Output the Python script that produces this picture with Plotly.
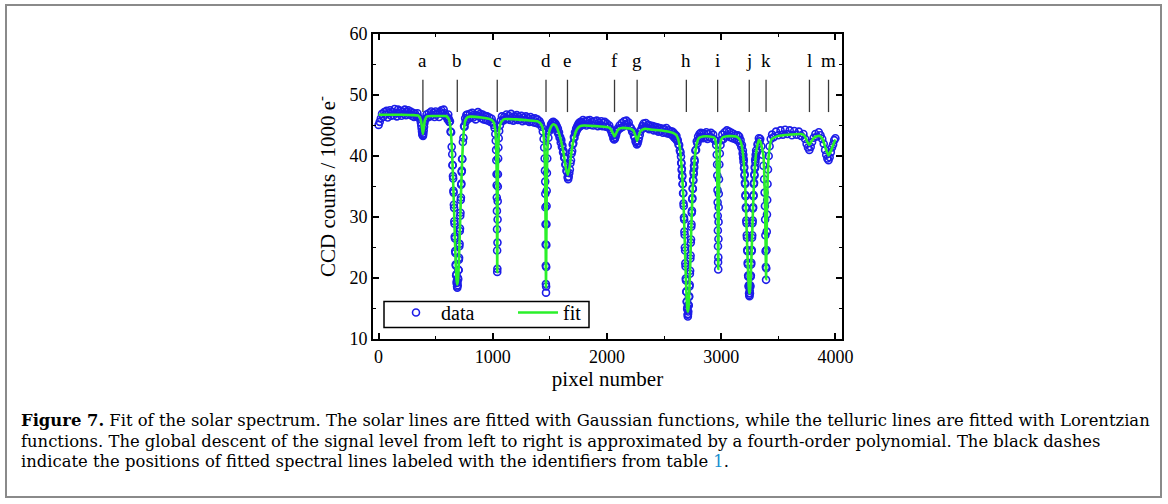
import plotly.graph_objects as go

# ================= data =================
# measured spectrum ("data"), stored region by region (x = pixel number, y = counts / 1000 e-)
X_CONT1 = list(range(0, 371, 10))
Y_CONT1 = [45.1, 45.6, 46.2, 46.9, 46.4, 47.2, 46.8, 47.4, 46.3, 47.0,
           47.5, 46.6, 47.2, 46.7, 47.7, 47.1, 46.5, 47.6, 47.0, 47.4,
           46.6, 47.3, 46.9, 47.6, 46.7, 47.2, 47.5, 46.8, 47.3, 46.6,
           47.1, 46.4, 46.9, 46.5, 47.0, 46.3, 46.1, 45.5]
X_LINE_A = list(range(374, 405, 3))
Y_LINE_A = [45.0, 44.5, 44.0, 43.6, 43.4, 43.3, 43.7, 44.2, 44.8, 45.4, 45.8]
X_CONT2 = list(range(410, 601, 10))
Y_CONT2 = [46.1, 46.8, 46.3, 47.0, 46.5, 47.3, 46.7, 47.1, 46.4, 47.3,
           46.8, 47.0, 46.4, 47.2, 47.5, 46.9, 47.6, 47.0, 46.5, 46.4]
X_LINE_B = [605, 610, 615, 620, 625, 630, 635, 640, 645, 647, 649, 651, 653, 655, 657, 659, 661, 663, 665,
            667, 669, 671, 673, 675, 677, 679, 681, 683, 685, 687, 689, 691, 693, 695, 697, 699, 701, 703,
            705, 707, 709, 711, 713, 715, 717, 719, 721, 723, 725, 727, 729, 731, 733, 738, 743, 748, 753,
            758, 763, 768, 773, 778]
Y_LINE_B = [46.0, 46.8, 46.1, 45.6, 45.7, 44.0, 43.9, 41.5, 40.3, 38.5, 38.5, 36.7, 36.3, 34.3, 34.0, 32.0,
            31.5, 29.3, 28.9, 26.8, 26.5, 24.4, 24.1, 22.2, 22.0, 20.4, 20.6, 19.2, 19.5, 18.6, 18.4, 19.3,
            18.8, 20.0, 19.8, 21.3, 21.3, 23.0, 23.3, 25.2, 25.6, 27.7, 28.1, 30.2, 30.7, 32.8, 33.2, 35.3,
            35.5, 37.4, 37.6, 39.5, 39.5, 42.3, 43.0, 44.9, 44.8, 46.2, 45.6, 46.7, 46.0, 46.8]
X_CONT3 = list(range(790, 1001, 10))
Y_CONT3 = [46.1, 46.9, 46.4, 47.1, 46.3, 46.8, 46.0, 46.6, 47.2, 46.5, 46.9,
           46.2, 46.8, 46.0, 46.6, 45.9, 46.5, 45.8, 46.3, 45.6, 46.1, 45.5]
X_LINE_C = [1010, 1016, 1022, 1026, 1029, 1031, 1033, 1034, 1035, 1036, 1037, 1038, 1039, 1040, 1041,
            1042, 1043, 1044, 1045, 1047, 1049, 1052, 1056, 1062, 1070]
Y_LINE_C = [45.1, 44.6, 43.6, 42.5, 41.0, 39.3, 37.0, 35.2, 33.2, 31.0, 28.0, 24.5, 21.0, 21.5, 25.8,
            29.6, 32.6, 35.0, 37.0, 39.6, 41.4, 42.9, 44.1, 45.0, 45.8]
X_CONT4 = list(range(1080, 1411, 10))
Y_CONT4 = [46.5, 45.8, 46.4, 46.0, 46.8, 46.1, 46.6, 45.9, 46.9, 46.3, 45.8, 46.5,
           46.1, 46.7, 45.9, 46.4, 46.0, 46.6, 45.7, 46.3, 45.9, 46.5, 45.8, 46.2,
           45.6, 46.4, 45.7, 46.1, 45.5, 46.2, 45.4, 46.0, 45.3, 45.7]
X_LINE_D = [1420, 1428, 1438, 1445, 1450, 1454, 1457, 1459, 1460, 1461, 1462, 1463, 1464, 1465, 1466,
            1467, 1468, 1469, 1470, 1471, 1472, 1474, 1477, 1481, 1487, 1495, 1500]
Y_LINE_D = [45.3, 44.8, 44.0, 42.8, 41.4, 39.6, 37.6, 35.8, 33.8, 31.6, 28.8, 25.5, 22.0, 19.0, 17.6,
            18.6, 21.8, 25.4, 28.8, 31.8, 34.3, 37.2, 39.6, 41.6, 43.0, 44.1, 44.6]
X_LINE_E = list(range(1505, 1776, 5))
Y_LINE_E = [44.4, 45.2, 44.7, 45.5, 45.0, 45.6, 44.9, 45.4, 44.8, 45.3, 44.5, 44.9, 44.0, 44.5,
            43.6, 43.9, 43.0, 43.1, 42.2, 42.6, 41.5, 41.7, 40.6, 40.8, 39.7, 39.8, 38.6, 38.6,
            37.6, 37.4, 36.5, 36.2, 36.6, 37.2, 37.8, 38.8, 39.3, 40.4, 40.8, 41.9, 42.1, 43.1,
            43.0, 43.9, 43.7, 44.5, 44.2, 44.9, 44.5, 45.3, 44.8, 45.5, 44.9, 45.6, 45.0]
X_CONT5 = list(range(1780, 2031, 10))
Y_CONT5 = [45.4, 45.9, 45.2, 45.7, 45.0, 45.8, 45.3, 45.9, 45.1, 45.6, 45.0, 45.7, 45.2,
           45.8, 44.9, 45.5, 45.1, 45.7, 44.9, 45.4, 45.6, 44.8, 45.3, 44.7, 45.0, 44.4]
X_LINE_F = [2037, 2044, 2050, 2056, 2062, 2068, 2074, 2080, 2087, 2094, 2100]
Y_LINE_F = [44.1, 43.7, 43.4, 42.9, 42.7, 42.8, 43.1, 43.5, 44.0, 44.5, 44.3]
X_CONT6 = list(range(2110, 2211, 10))
Y_CONT6 = [45.0, 44.6, 45.4, 44.8, 45.7, 45.1, 45.8, 45.2, 45.5, 44.8, 44.6]
X_LINE_G = [2220, 2228, 2236, 2244, 2250, 2256, 2262, 2268, 2274, 2280, 2287, 2294, 2301, 2310]
Y_LINE_G = [44.0, 44.1, 43.3, 43.0, 42.4, 42.3, 41.9, 42.1, 42.5, 43.0, 43.5, 44.1, 44.4, 44.9]
X_CONT7 = list(range(2320, 2561, 10))
Y_CONT7 = [45.3, 44.7, 45.4, 44.6, 45.1, 44.4, 45.0, 44.5, 44.9, 44.2, 44.8, 44.3, 44.7,
           44.0, 44.6, 44.1, 44.5, 43.8, 44.4, 43.9, 44.6, 43.7, 44.2, 43.6, 44.0]
X_LINE_H = list(range(2566, 2645, 6)) + list(range(2648, 2769, 2)) + list(range(2774, 2841, 6))
Y_LINE_H = [43.5, 44.0, 43.3, 43.8, 43.0, 43.5, 42.8, 43.3, 42.5, 42.6, 41.9, 41.8, 40.9, 40.6,
            39.9, 38.9, 38.8, 37.7, 37.9, 36.6, 36.8, 35.4, 35.4, 33.9, 33.9, 32.2, 31.8, 29.9, 29.6,
            27.6, 27.1, 25.0, 24.5, 22.4, 21.9, 19.9, 19.6, 17.8, 17.7, 16.1, 16.2, 14.9, 15.2, 14.0,
            13.7, 14.1, 14.5, 15.6, 15.5, 16.9, 17.0, 18.6, 18.9, 20.7, 21.2, 23.2, 23.7, 25.8, 26.3,
            28.4, 28.8, 30.7, 31.0, 32.9, 33.1, 34.7, 34.6, 36.1, 36.0, 37.4, 37.1, 38.4, 38.1, 39.4,
            39.1,
            40.9, 41.0, 42.4, 42.1, 43.2, 42.7, 43.6, 43.0, 43.8, 43.1, 43.7, 42.9]
X_CONT8 = list(range(2850, 2951, 10))
Y_CONT8 = [43.7, 43.0, 43.9, 42.8, 43.6, 43.1, 43.8, 42.9, 43.5, 42.7, 42.5]
X_LINE_I = [2956, 2961, 2964, 2966, 2968, 2969, 2970, 2971, 2972, 2973, 2974, 2975, 2976, 2977, 2978,
            2979, 2981, 2984, 2988, 2994, 3002]
Y_LINE_I = [41.8, 40.2, 38.6, 36.8, 34.4, 32.4, 30.2, 27.8, 25.2, 22.6, 21.4, 23.4, 26.4, 29.2, 31.6,
            33.8, 36.2, 38.6, 40.4, 41.8, 42.6]
X_CONT9 = list(range(3010, 3141, 10))
Y_CONT9 = [43.5, 42.8, 43.9, 43.2, 44.2, 43.4, 44.0, 43.1, 43.8, 42.9, 43.6, 42.8, 43.4, 42.6]
X_LINE_J = list(range(3146, 3189, 6)) + list(range(3190, 3307, 2)) + list(range(3312, 3343, 6))
Y_LINE_J = [43.4, 42.6, 43.2, 42.1, 42.6, 41.5, 41.8, 40.4,
            40.9, 39.7, 40.2, 39.0, 39.4, 38.0, 38.2, 36.8, 37.0, 35.6, 35.4, 33.6, 33.4, 31.6, 31.4,
            29.4, 29.0, 27.0, 26.6, 24.6, 24.4, 22.5, 22.2, 20.4, 20.2, 18.6, 18.8, 17.5, 17.2, 17.0,
            17.9, 17.5, 18.8, 18.6, 20.2, 20.4, 22.2, 22.5, 24.4, 24.6, 26.6, 27.0, 29.0, 29.4, 31.4,
            31.6, 33.4, 33.6, 35.4, 35.6, 37.0, 36.8, 38.2, 38.0, 39.4, 39.0, 40.2, 39.7, 40.9,
            40.6, 41.9, 42.0, 42.9, 42.4, 42.8]
X_LINE_K = [3352, 3362, 3370, 3376, 3380, 3383, 3385, 3387, 3389, 3391, 3393, 3395, 3397, 3399, 3401,
            3403, 3406, 3410, 3416, 3424, 3434, 3446]
Y_LINE_K = [41.6, 40.2, 38.4, 36.2, 34.0, 31.8, 29.6, 27.0, 24.4, 21.8, 19.7, 21.6, 24.6, 27.6, 30.4,
            32.8, 35.4, 37.8, 40.0, 41.6, 42.8, 43.5]
X_CONT10 = list(range(3460, 3721, 20))
Y_CONT10 = [43.1, 44.0, 43.4, 44.2, 43.5, 44.3, 43.6, 44.2, 43.4, 44.1, 43.5, 44.0, 43.3, 43.6]
X_LINES_LM = [3735, 3748, 3760, 3772, 3784, 3796, 3810, 3825, 3840, 3855, 3870,
              3885, 3898, 3910, 3920, 3930, 3940, 3950, 3960, 3970, 3980, 3990, 4000]
Y_LINES_LM = [42.8, 42.0, 41.4, 41.0, 41.5, 42.3, 43.0, 43.6, 43.2, 43.9, 43.4,
              42.8, 42.0, 41.0, 40.2, 39.6, 39.3, 39.8, 40.6, 41.4, 41.9, 42.6, 42.9]

DATA_PARTS = [(X_CONT1, Y_CONT1), (X_LINE_A, Y_LINE_A), (X_CONT2, Y_CONT2), (X_LINE_B, Y_LINE_B),
              (X_CONT3, Y_CONT3), (X_LINE_C, Y_LINE_C), (X_CONT4, Y_CONT4), (X_LINE_D, Y_LINE_D),
              (X_LINE_E, Y_LINE_E), (X_CONT5, Y_CONT5), (X_LINE_F, Y_LINE_F), (X_CONT6, Y_CONT6),
              (X_LINE_G, Y_LINE_G), (X_CONT7, Y_CONT7), (X_LINE_H, Y_LINE_H), (X_CONT8, Y_CONT8),
              (X_LINE_I, Y_LINE_I), (X_CONT9, Y_CONT9), (X_LINE_J, Y_LINE_J), (X_LINE_K, Y_LINE_K),
              (X_CONT10, Y_CONT10), (X_LINES_LM, Y_LINES_LM)]

# fitted model curve ("fit")
FIT_X = [0, 100, 200, 300, 350, 370, 380, 388, 396, 406, 425, 500, 580,
         600, 620, 630, 640, 649, 659, 669, 677, 683, 689, 695, 701, 709, 719, 729, 738, 748, 758, 775,
         800, 900, 980,
         1005, 1020, 1028, 1033, 1036, 1039, 1042, 1045, 1050, 1058, 1075, 1100, 1200, 1300, 1390,
         1420, 1440, 1452, 1459, 1463, 1466, 1469, 1473, 1480, 1492, 1510, 1530, 1550,
         1575, 1600, 1620, 1640, 1658, 1675, 1690, 1710, 1735, 1765, 1800, 1900, 2000,
         2030, 2050, 2066, 2082, 2100, 2130, 2200, 2230, 2250, 2264, 2278, 2295, 2330, 2400, 2500, 2560,
         2578, 2608, 2623, 2638, 2648, 2658, 2668, 2678, 2688, 2698, 2703, 2708, 2713, 2718, 2728, 2738,
         2748, 2758, 2768, 2778, 2793, 2808, 2840, 2900,
         2940, 2955, 2965, 2970, 2974, 2978, 2983, 2993, 3010, 3050, 3130,
         3158, 3173, 3188, 3198, 3208, 3218, 3228, 3238, 3244, 3248, 3252, 3258, 3268, 3278, 3288, 3298,
         3308, 3320, 3332, 3345,
         3370, 3382, 3388, 3393, 3398, 3404, 3416, 3440, 3500, 3600, 3700,
         3730, 3755, 3773, 3790, 3820, 3860, 3890, 3915, 3940, 3960, 3980, 4000]
FIT_Y = [46.75, 46.75, 46.75, 46.7, 46.6, 45.9, 44.6, 43.6, 44.6, 45.9, 46.5, 46.55, 46.55,
         46.45, 45.8, 44.4, 41.9, 38.0, 32.3, 26.0, 21.7, 19.6, 18.9, 19.6, 21.7, 26.0, 32.3, 38.0, 41.9,
         44.4, 45.7, 46.3,
         46.45, 46.3, 46.0,
         45.6, 44.5, 42.5, 38.5, 32.0, 21.0, 32.0, 38.5, 42.5, 44.5, 45.6, 46.05, 46.0, 45.85, 45.7,
         45.3, 44.3, 41.5, 36.0, 26.0, 18.5, 26.0, 36.0, 41.5, 43.8, 44.8, 45.2, 45.0,
         44.0, 42.3, 40.5, 38.0, 36.9, 38.5, 40.8, 42.9, 44.3, 44.9, 45.0, 44.9, 44.75,
         44.5, 43.8, 43.2, 43.8, 44.4, 44.6, 44.5, 44.2, 43.3, 42.5, 43.3, 44.1, 44.45, 44.3, 44.1, 43.9,
         43.8, 43.4, 42.8, 41.4, 39.5, 37.0, 33.5, 28.0, 21.5, 16.5, 15.0, 14.5, 15.0, 16.5, 21.5, 28.0,
         33.5, 37.0, 39.5, 41.2, 42.5, 43.0, 43.2, 43.2,
         43.0, 42.0, 37.0, 30.0, 21.5, 30.0, 37.0, 42.0, 43.0, 43.25, 43.2,
         42.8, 42.2, 40.8, 39.0, 36.0, 31.0, 25.0, 19.8, 17.9, 17.5, 17.9, 19.8, 25.0, 31.0, 36.0, 39.0,
         40.8, 42.0, 42.6, 42.3,
         40.0, 34.0, 27.0, 19.8, 27.0, 34.0, 40.0, 42.7, 43.3, 43.5, 43.6,
         43.3, 42.3, 41.8, 42.4, 43.1, 43.3, 42.7, 41.2, 40.1, 40.8, 41.8, 42.7]

LINE_LABELS = ["a", "b", "c", "d", "e", "f", "g", "h", "i", "j", "k", "l", "m"]
LINE_POS = [388, 689, 1039, 1466, 1654, 2066, 2264, 2695, 2969, 3246, 3393, 3773, 3940]
DASH_BOTTOM = 47.2
DASH_TOP = 52.5
LABEL_Y = 55.7

X_TICKS = [0, 1000, 2000, 3000, 4000]
Y_TICKS = [10, 20, 30, 40, 50, 60]

CAPTION = [
    "<b>Figure 7.</b> Fit of the solar spectrum. The solar lines are fitted with Gaussian functions, "
    "while the telluric lines are fitted with Lorentzian",
    "functions. The global descent of the signal level from left to right is approximated by a "
    "fourth-order polynomial. The black dashes",
    "indicate the positions of fitted spectral lines labeled with the identifiers from table "
    "<span style='color:#1a8fd0'>1</span>.",
]
CAPTION_Y = [420, 441, 462]

# ================= layout geometry (pixels) =================
W, H = 1168, 504
PLOT_L, PLOT_R, PLOT_T, PLOT_B = 373, 842, 34, 339
ML, MR, MT, MB = PLOT_L, W - PLOT_R, PLOT_T, H - PLOT_B
PW, PH = PLOT_R - PLOT_L, PLOT_B - PLOT_T


def px(x):
    return (x - PLOT_L) / PW


def py(y):
    return (PLOT_B - y) / PH


SERIF = "Liberation Serif, Times New Roman, serif"
CAPTION_FONT = "DejaVu Serif, Liberation Serif, serif"

data_x, data_y = [], []
for xs, ys in DATA_PARTS:
    assert len(xs) == len(ys), (xs[0], len(xs), len(ys))
    data_x += xs
    data_y += ys

fig = go.Figure()
fig.add_trace(go.Scatter(
    x=data_x, y=data_y, mode="markers", name="data",
    marker=dict(symbol="circle-open", size=7, color="#1d1de8", line=dict(width=1.6, color="#1d1de8")),
))
fig.add_trace(go.Scatter(
    x=FIT_X, y=FIT_Y, mode="lines", name="fit",
    line=dict(color="#2af02a", width=2.6, shape="spline", smoothing=0.5),
))

for lab, pos in zip(LINE_LABELS, LINE_POS):
    fig.add_shape(type="line", xref="x", yref="y", x0=pos, x1=pos, y0=DASH_BOTTOM, y1=DASH_TOP,
                  line=dict(color="#383838", width=1.3))
    fig.add_annotation(x=pos, y=LABEL_Y, xref="x", yref="y", text=lab, showarrow=False,
                       font=dict(family=SERIF, size=19, color="black"))

# outer frame of the figure panel
fig.add_shape(type="rect", xref="paper", yref="paper", x0=px(6), x1=px(1161), y0=py(497), y1=py(5),
              line=dict(color="#8a8a8a", width=2), layer="below")
# legend frame
fig.add_shape(type="rect", xref="paper", yref="paper", x0=px(384), x1=px(589), y0=py(327.5), y1=py(301.5),
              line=dict(color="black", width=1.5), fillcolor="white", layer="below")

for txt, yy in zip(CAPTION, CAPTION_Y):
    fig.add_annotation(text=txt, xref="paper", yref="paper", x=px(20), y=py(yy), showarrow=False,
                       xanchor="left", yanchor="middle", borderpad=0,
                       font=dict(family=CAPTION_FONT, size=16.4, color="black"))

axis_common = dict(
    showline=True, linecolor="black", linewidth=2, mirror="allticks",
    ticks="inside", ticklen=6, tickwidth=1.5, tickcolor="black",
    showgrid=False, zeroline=False,
    tickfont=dict(family=SERIF, size=18, color="black"),
    minor=dict(ticks="inside", ticklen=3, tickwidth=1.2, tickcolor="black", showgrid=False),
)

fig.update_xaxes(range=[-49, 4058], tickmode="array", tickvals=X_TICKS,
                 minor_dtick=500, minor_tick0=0,
                 title=dict(text="pixel number", font=dict(family=SERIF, size=21, color="black"), standoff=4),
                 **axis_common)
fig.update_yaxes(range=[10, 60], tickmode="array", tickvals=Y_TICKS,
                 minor_dtick=5, minor_tick0=0,
                 title=dict(text="CCD counts / 1000 e<sup>-</sup>",
                            font=dict(family=SERIF, size=21, color="black"), standoff=8),
                 **axis_common)

fig.update_layout(
    width=W, height=H,
    margin=dict(l=ML, r=MR, t=MT, b=MB, autoexpand=False),
    paper_bgcolor="white", plot_bgcolor="white",
    showlegend=True,
    legend=dict(orientation="h", x=px(391), y=py(293), xanchor="left", yanchor="top",
                bgcolor="rgba(0,0,0,0)", borderwidth=0,
                font=dict(family=SERIF, size=20, color="black"),
                itemwidth=40, entrywidth=67, entrywidthmode="pixels"),
)

fig.write_html("out.html")
